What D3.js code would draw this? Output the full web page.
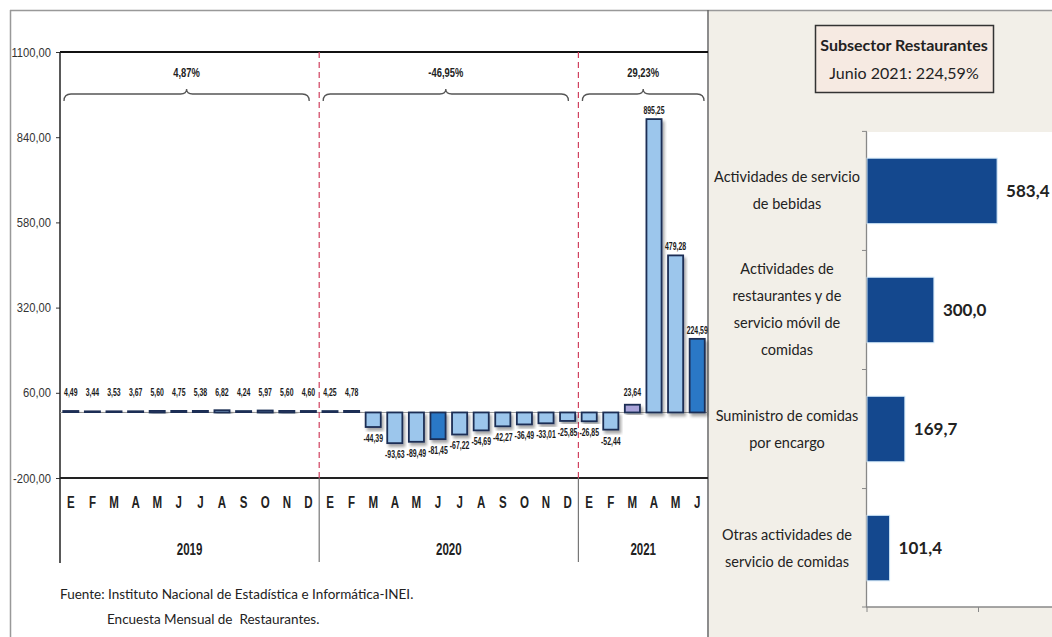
<!DOCTYPE html>
<html><head><meta charset="utf-8">
<script src="https://cdn.jsdelivr.net/npm/d3@7"></script>
<style>
body{margin:0;background:#fff;}
.narrow{font-family:"Liberation Sans Narrow","Arial Narrow","Liberation Sans",Arial,sans-serif;}
.cal{font-family:Lato,"Open Sans",sans-serif;white-space:pre;}
</style></head>
<body>
<svg id="c" width="1052" height="637"></svg>
<script>
// ---- data ----
const monthLetters = ["E","F","M","A","M","J","J","A","S","O","N","D",
                      "E","F","M","A","M","J","J","A","S","O","N","D",
                      "E","F","M","A","M","J"];
const years = ["2019","2020","2021"];
const yearMonthCounts = [12,12,6];
const values = [4.49,3.44,3.53,3.67,5.60,4.75,5.38,6.82,4.24,5.97,5.60,4.60,
                4.25,4.78,-44.39,-93.63,-89.49,-81.45,-67.22,-54.69,-42.27,-36.49,-33.01,-25.85,
                -26.85,-52.44,23.64,895.25,479.28,224.59];
const yearRates = ["4,87%","-46,95%","29,23%"];
const yTicks = [-200,60,320,580,840,1100];

const boxTitle = "Subsector Restaurantes";
const boxSub = "Junio 2021: 224,59%";
const subCategories = [
  ["Actividades de servicio","de bebidas"],
  ["Actividades de","restaurantes y de","servicio móvil de","comidas"],
  ["Suministro de comidas","por encargo"],
  ["Otras actividades de","servicio de comidas"]
];
const subValues = [583.4,300.0,169.7,101.4];
const sourceLines = ["Fuente: Instituto Nacional de Estadística e Informática-INEI.",
                     "Encuesta Mensual de  Restaurantes."];

// ---- helpers ----
const fmt2 = v => d3.format(".2f")(v).replace(".",",").replace("−","-");
const fmt1 = v => d3.format(".1f")(v).replace(".",",");
function condense(sel, k){
  sel.each(function(){
    const w = this.getComputedTextLength();
    if (w > 0) { this.setAttribute("textLength", (w*k).toFixed(2)); this.setAttribute("lengthAdjust","spacingAndGlyphs"); }
  });
}

const svg = d3.select("#c");
const defs = svg.append("defs");
const f = defs.append("filter").attr("id","sh").attr("x","-30%").attr("y","-30%").attr("width","160%").attr("height","160%");
f.append("feDropShadow").attr("dx",2).attr("dy",3).attr("stdDeviation",1.8).attr("flood-color","#000").attr("flood-opacity",0.35);

// background panels
svg.append("rect").attr("x",709).attr("y",10).attr("width",343).attr("height",627).attr("fill","#f2efe8");
svg.append("line").attr("x1",10).attr("x2",1052).attr("y1",10.5).attr("y2",10.5).attr("stroke","#999").attr("stroke-width",1.5);
svg.append("line").attr("x1",10.5).attr("x2",10.5).attr("y1",10).attr("y2",637).attr("stroke","#999").attr("stroke-width",1.5);
svg.append("line").attr("x1",708).attr("x2",708).attr("y1",10).attr("y2",637).attr("stroke","#666").attr("stroke-width",1.5);

// ---- left chart ----
const x = d3.scaleBand().domain(d3.range(values.length)).range([60,708]).paddingInner(0.3).paddingOuter(0.15);
const y = d3.scaleLinear().domain([-200,1100]).range([478,52]);
const step = x.step();
const x0 = 60;

let acc = 0;
const yearBounds = yearMonthCounts.map(n => { const s = acc; acc += n; return [s, acc]; });
const bx = i => x0 + i*step;

svg.append("line").attr("x1",60).attr("x2",708).attr("y1",y(1100)).attr("y2",y(1100)).attr("stroke","#111").attr("stroke-width",2);
svg.append("line").attr("x1",60).attr("x2",708).attr("y1",y(-200)).attr("y2",y(-200)).attr("stroke","#222").attr("stroke-width",2);

const yAxis = d3.axisLeft(y).tickValues(yTicks).tickSize(4).tickFormat(fmt2);
const ga = svg.append("g").attr("transform","translate(60,0)").call(yAxis);
ga.select(".domain").remove();
ga.selectAll(".tick line").attr("stroke","#333");
ga.selectAll(".tick text").attr("class","narrow").attr("font-size",13).attr("fill","#333").attr("x",-9);
condense(ga.selectAll(".tick text"), 0.86);
svg.append("line").attr("x1",60).attr("x2",60).attr("y1",y(1100)).attr("y2",563).attr("stroke","#222").attr("stroke-width",1.5);

svg.append("line").attr("x1",60).attr("x2",708).attr("y1",y(0)).attr("y2",y(0)).attr("stroke","#999").attr("stroke-width",1);

yearBounds.slice(1).forEach(b => {
  const xx = bx(b[0]);
  svg.append("line").attr("x1",xx).attr("x2",xx).attr("y1",y(1100)).attr("y2",y(-200))
    .attr("stroke","#d0415f").attr("stroke-width",1.2).attr("stroke-dasharray","6,4");
  svg.append("line").attr("x1",xx).attr("x2",xx).attr("y1",y(-200)).attr("y2",562)
    .attr("stroke","#777").attr("stroke-width",1.2);
});

const light = "#9cc6ec", dark = "#2b78c6", lav = "#a9a3d9";
const fillFor = i => (i % 12 === 5 && i >= 12) ? dark : (i === 26 ? lav : light);
svg.append("g").selectAll("rect").data(values).join("rect")
  .attr("x",(d,i)=>x(i)).attr("width",x.bandwidth())
  .attr("y",d=>y(Math.max(0,d))).attr("height",d=>Math.max(0.5,Math.abs(y(d)-y(0))))
  .attr("fill",(d,i)=>fillFor(i)).attr("stroke","#1c2f55").attr("stroke-width",1.8)
  .attr("filter","url(#sh)");

const lbl = svg.append("g").selectAll("text").data(values).join("text")
  .attr("class","narrow")
  .attr("x",(d,i)=>x(i)+x.bandwidth()/2)
  .attr("y",d=> d>=0 ? Math.min(y(d)-5, y(60)+3) : y(d)+15)
  .attr("text-anchor","middle").attr("font-size",11.5).attr("font-weight","bold").attr("fill","#1a1a1a")
  .text(d=>fmt2(d));
condense(lbl, 0.6);

const ml = svg.append("g").selectAll("text").data(monthLetters).join("text")
  .attr("class","narrow")
  .attr("x",(d,i)=>x(i)+x.bandwidth()/2).attr("y",508)
  .attr("text-anchor","middle").attr("font-size",16).attr("font-weight","bold").attr("fill","#222")
  .text(d=>d);
condense(ml, 0.72);

const yl = svg.append("g").selectAll("text").data(years).join("text")
  .attr("class","narrow")
  .attr("x",(d,i)=>(bx(yearBounds[i][0])+bx(yearBounds[i][1]))/2).attr("y",555)
  .attr("text-anchor","middle").attr("font-size",16).attr("font-weight","bold").attr("fill","#222")
  .text(d=>d);
condense(yl, 0.72);

const braceY = 94;
yearBounds.forEach((b,i) => {
  const x1 = bx(b[0]) + 4, x2 = bx(b[1]) - (i===2 ? 4 : 10), xm = (x1+x2)/2;
  const p = `M${x1},${braceY+7} Q${x1},${braceY} ${x1+7},${braceY} L${xm-6},${braceY} Q${xm},${braceY} ${xm},${braceY-5} Q${xm},${braceY} ${xm+6},${braceY} L${x2-7},${braceY} Q${x2},${braceY} ${x2},${braceY+7}`;
  svg.append("path").attr("d",p).attr("fill","none").attr("stroke","#555").attr("stroke-width",1.3);
  const t = svg.append("text").attr("class","narrow").attr("x",xm).attr("y",77).attr("text-anchor","middle")
    .attr("font-size",13).attr("font-weight","bold").attr("fill","#222").text(yearRates[i]);
  condense(t, 0.72);
});

svg.append("text").attr("class","cal").attr("x",60).attr("y",599).attr("font-size",13.5).attr("fill","#222").text(sourceLines[0]);
svg.append("text").attr("class","cal").attr("x",107).attr("y",624).attr("font-size",13.5).attr("fill","#222").text(sourceLines[1]);

// ---- right panel ----
svg.append("rect").attr("x",815.5).attr("y",25.5).attr("width",178).attr("height",67).attr("fill","#f6eae2").attr("stroke","#333").attr("stroke-width",1.5);
svg.append("text").attr("class","cal").attr("x",904).attr("y",51).attr("text-anchor","middle").attr("font-size",16).attr("font-weight","bold").attr("fill","#222").text(boxTitle);
svg.append("text").attr("class","cal").attr("x",904).attr("y",79).attr("text-anchor","middle").attr("font-size",16).attr("fill","#222").text(boxSub);

const ry = d3.scaleBand().domain(d3.range(subValues.length)).range([132,607]).paddingInner(0.45).paddingOuter(0.22);
const rx = d3.scaleLinear().domain([0,1000]).range([867,1090]);
svg.append("rect").attr("x",867).attr("y",132).attr("width",185).attr("height",475).attr("fill","#fff");
svg.append("line").attr("x1",866.5).attr("x2",866.5).attr("y1",132).attr("y2",607).attr("stroke","#888").attr("stroke-width",1.3);
svg.append("line").attr("x1",866).attr("x2",1052).attr("y1",607).attr("y2",607).attr("stroke","#888").attr("stroke-width",1.5);
d3.range(subValues.length+1).forEach(i => {
  const yv = i===subValues.length ? 607 : ry(i) - ry.step()*ry.paddingInner()/2;
  svg.append("line").attr("x1",862).attr("x2",867).attr("y1",yv).attr("y2",yv).attr("stroke","#888");
});
[0,500].forEach(t => svg.append("line").attr("x1",rx(t)).attr("x2",rx(t)).attr("y1",607).attr("y2",612).attr("stroke","#888"));

svg.append("g").selectAll("rect").data(subValues).join("rect")
  .attr("x",rx(0)).attr("y",(d,i)=>ry(i)).attr("width",d=>rx(d)-rx(0)).attr("height",ry.bandwidth())
  .attr("fill","#14488e").attr("stroke","#cfe6f7").attr("stroke-width",1);
svg.append("g").selectAll("text").data(subValues).join("text")
  .attr("class","cal")
  .attr("x",d=>rx(d)+9).attr("y",(d,i)=>ry(i)+ry.bandwidth()/2+6)
  .attr("font-size",17).attr("font-weight","bold").attr("fill","#222").text(d=>fmt1(d));

subCategories.forEach((lines,i) => {
  const cy = ry(i)+ry.bandwidth()/2;
  const lh = 27;
  const t = svg.append("text").attr("class","cal").attr("text-anchor","middle").attr("font-size",14.5).attr("fill","#222");
  lines.forEach((ln,k) => {
    t.append("tspan").attr("x",787).attr("y",cy + (k-(lines.length-1)/2)*lh + 5).text(ln);
  });
});
</script>
</body></html>
